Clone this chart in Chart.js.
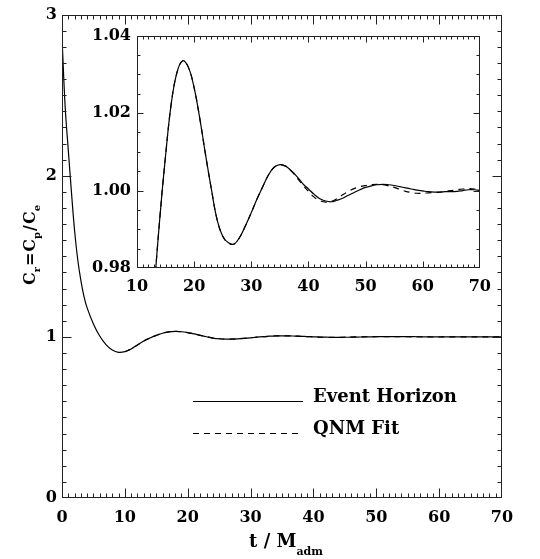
<!DOCTYPE html>
<html>
<head>
<meta charset="utf-8">
<script src="https://cdn.jsdelivr.net/npm/chart.js@4.4.1/dist/chart.umd.min.js"></script>
<style>
    html, body { margin: 0; padding: 0; background: #fff; }
    #wrap { position: relative; width: 540px; height: 559px; }
    #mainChart { position: absolute; left: 0; top: 0; }
    #insetChart { position: absolute; left: 80px; top: 20px; }
</style>
</head>
<body>
<div id="wrap">
    <canvas id="mainChart" width="540" height="559"></canvas>
    <canvas id="insetChart" width="420" height="285"></canvas>
</div>
<script>
// Event horizon C_r(t)
const timeEH = [0, 0.5, 1, 1.5, 2, 2.5, 3, 3.5, 4, 5, 6, 7, 8, 9,
    10, 11, 12, 13, 14, 15, 16, 17, 18, 19, 20, 21, 22, 23, 24, 25, 26, 27, 28, 29,
    30, 31, 32, 33, 34, 35, 36, 37, 38, 39, 40, 41, 42, 43, 44, 45, 46, 47, 48, 49,
    50, 51, 52, 53, 54, 55, 56, 57, 58, 59, 60, 61, 62, 63, 64, 65, 66, 67, 68, 69, 70];
const horizonCr = [2.86, 2.43, 2.16, 1.9, 1.66, 1.48, 1.35, 1.25, 1.18, 1.08, 1.005, 0.952, 0.918, 0.904,
    0.908, 0.925, 0.95, 0.974, 0.993, 1.009, 1.0225, 1.0305, 1.0335, 1.0318,
    1.0265, 1.0185, 1.0092, 1.0005, 0.9926, 0.9882, 0.9865, 0.9862, 0.988, 0.991,
    0.9943, 0.9978, 1.001, 1.004, 1.006, 1.0067, 1.0063, 1.0051, 1.0036, 1.0018,
    1.0004, 0.999, 0.9979, 0.9973, 0.9971, 0.9975, 0.998, 0.9988, 0.9995, 1.0002,
    1.0008, 1.0012, 1.0015, 1.0016, 1.0015, 1.0013, 1.001, 1.0007, 1.0004, 1.0001,
    0.9999, 0.9997, 0.9996, 0.9996, 0.9997, 0.9997, 0.9998, 1.0, 1.0002, 1.0002, 1.0];

// Quasi-normal mode fit
const timeQNM = [10, 11, 12, 13, 14, 15, 16, 17, 18, 19, 20, 21, 22, 23, 24, 25, 26, 27, 28, 29,
    30, 31, 32, 33, 34, 35, 36, 37, 38, 39, 40, 41, 42, 43, 44, 45, 46, 47, 48, 49,
    50, 51, 52, 53, 54, 55, 56, 57, 58, 59, 60, 61, 62, 63, 64, 65, 66, 67, 68, 69, 70];
const qnmCr = [0.908, 0.925, 0.95, 0.974, 0.993, 1.009, 1.0225, 1.0305, 1.0335, 1.0318,
    1.0265, 1.0185, 1.0092, 1.0005, 0.9926, 0.9882, 0.9864, 0.9862, 0.988, 0.991,
    0.9943, 0.9978, 1.001, 1.004, 1.006, 1.0067, 1.0063, 1.005, 1.0033, 1.0014,
    0.9998, 0.9983, 0.9974, 0.997, 0.9972, 0.9979, 0.9989, 0.9998, 1.0005, 1.001,
    1.0013, 1.0015, 1.0016, 1.0015, 1.0012, 1.0008, 1.0003, 0.9998, 0.9995, 0.9993,
    0.9993, 0.9994, 0.9995, 0.9996, 0.9998, 1.0, 1.0002, 1.0004, 1.0005, 1.0004, 1.0001];

const seriesLabels = ['Event Horizon', 'QNM Fit'];

const FONT = '"DejaVu Serif", "Liberation Serif", serif';
Chart.defaults.font.family = FONT;
Chart.defaults.font.weight = 'bold';
Chart.defaults.font.size = 16;
Chart.defaults.color = '#000';

const toXY = (ts, vs) => ts.map((t, i) => ({ x: t, y: vs[i] }));

function makeDatasets() {
    return [
        { label: seriesLabels[0], data: toXY(timeEH, horizonCr), borderColor: '#000', borderWidth: 1.2, pointRadius: 0, tension: 0.4 },
        { label: seriesLabels[1], data: toXY(timeQNM, qnmCr), borderColor: '#000', borderWidth: 1.2, borderDash: [6, 5], pointRadius: 0, tension: 0.4 }
    ];
}

// box round the plot with inward ticks on all four sides
function frameTicks(o) {
    return {
        id: 'frameTicks',
        afterDatasetsDraw(chart) {
            const { ctx, chartArea: a } = chart;
            const x = chart.scales.x, y = chart.scales.y;
            const L = Math.round(a.left) + 0.5, R = Math.round(a.right) - 0.5;
            const T = Math.round(a.top) + 0.5, B = Math.round(a.bottom) - 0.5;
            ctx.save();
            ctx.strokeStyle = '#222';
            ctx.lineWidth = 1;
            ctx.setLineDash([]);
            ctx.strokeRect(L, T, R - L, B - T);
            ctx.beginPath();
            const nx = Math.round((x.max - x.min) / o.xStep);
            for (let i = 1; i < nx; i++) {
                const px = Math.round(x.getPixelForValue(x.min + i * o.xStep)) + 0.5;
                const len = i % o.xEvery === 0 ? o.major : o.minor;
                ctx.moveTo(px, B); ctx.lineTo(px, B - len);
                ctx.moveTo(px, T); ctx.lineTo(px, T + len);
            }
            const ny = Math.round((y.max - y.min) / o.yStep);
            for (let i = 1; i < ny; i++) {
                const py = Math.round(y.getPixelForValue(y.min + i * o.yStep)) + 0.5;
                const len = i % o.yEvery === 0 ? o.major : o.minor;
                ctx.moveTo(L, py); ctx.lineTo(L + len, py);
                ctx.moveTo(R, py); ctx.lineTo(R - len, py);
            }
            ctx.stroke();
            ctx.restore();
        }
    };
}

// text with subscripts, laid out left to right and centred on (cx, cy)
function drawRuns(ctx, runs, cx, cy, big, small, drop) {
    const fontFor = sub => `bold ${sub ? small : big}px ${FONT}`;
    let total = 0;
    runs.forEach(r => { ctx.font = fontFor(r[1]); total += ctx.measureText(r[0]).width + (r[2] || 0); });
    let x = cx - total / 2;
    runs.forEach(r => {
        ctx.font = fontFor(r[1]);
        ctx.fillText(r[0], x, cy + (r[1] ? drop : 0));
        x += ctx.measureText(r[0]).width + (r[2] || 0);
    });
}

const mainDecor = {
    id: 'mainDecor',
    afterDraw(chart) {
        const ctx = chart.ctx;
        ctx.save();
        ctx.fillStyle = '#000';
        ctx.textBaseline = 'alphabetic';

        // axis titles
        drawRuns(ctx, [['t / M', 0], ['adm', 1]], 286, 547, 18, 11, 8);
        ctx.translate(35, 245);
        ctx.rotate(-Math.PI / 2);
        drawRuns(ctx, [['C', 0], ['r', 1, 1], ['=', 0, 1], ['C', 0], ['p', 1, 1], ['/', 0, 1], ['C', 0], ['e', 1]], 0, 0, 16, 10, 5);
        ctx.setTransform(1, 0, 0, 1, 0, 0);

        // legend
        const rows = [401, 433];
        ctx.font = `bold 18px ${FONT}`;
        chart.data.datasets.forEach((ds, i) => {
            ctx.beginPath();
            ctx.strokeStyle = '#000';
            ctx.lineWidth = 1;
            ctx.setLineDash(ds.borderDash || []);
            ctx.moveTo(193, rows[i] + 0.5);
            ctx.lineTo(303, rows[i] + 0.5);
            ctx.stroke();
            ctx.setLineDash([]);
            ctx.fillText(ds.label, 313, rows[i] + 1);
        });
        ctx.restore();
    }
};

new Chart(document.getElementById('mainChart'), {
    type: 'line',
    data: { datasets: makeDatasets() },
    options: {
        responsive: false,
        animation: false,
        layout: { padding: { top: 8, right: 38, left: 0, bottom: 0 } },
        plugins: { legend: { display: false }, tooltip: { enabled: false } },
        scales: {
            x: {
                type: 'linear', min: 0, max: 70,
                grid: { display: false, drawTicks: false },
                border: { display: false },
                ticks: { stepSize: 10, padding: 10, maxRotation: 0 },
                afterFit(s) { s.height = 61; }
            },
            y: {
                min: 0, max: 3,
                grid: { display: false, drawTicks: false },
                border: { display: false },
                ticks: { stepSize: 1, padding: 5 },
                afterFit(s) { s.width = 62; }
            }
        }
    },
    plugins: [frameTicks({ xStep: 1, xEvery: 10, yStep: 0.1, yEvery: 10, major: 9, minor: 4 }), mainDecor]
});

new Chart(document.getElementById('insetChart'), {
    type: 'line',
    data: { datasets: makeDatasets() },
    options: {
        responsive: false,
        animation: false,
        layout: { padding: { top: 14, right: 10, left: 0, bottom: 0 } },
        plugins: { legend: { display: false }, tooltip: { enabled: false } },
        scales: {
            x: {
                type: 'linear', min: 10, max: 70,
                grid: { display: false, drawTicks: false },
                border: { display: false },
                ticks: { stepSize: 10, padding: 9, maxRotation: 0 },
                afterFit(s) { s.height = 37; }
            },
            y: {
                min: 0.98, max: 1.04,
                grid: { display: false, drawTicks: false },
                border: { display: false },
                ticks: { stepSize: 0.02, padding: 6, callback: v => v.toFixed(2) },
                afterFit(s) { s.width = 57; }
            }
        }
    },
    plugins: [frameTicks({ xStep: 1, xEvery: 10, yStep: 0.005, yEvery: 4, major: 6, minor: 3 })]
});
</script>
</body>
</html>
